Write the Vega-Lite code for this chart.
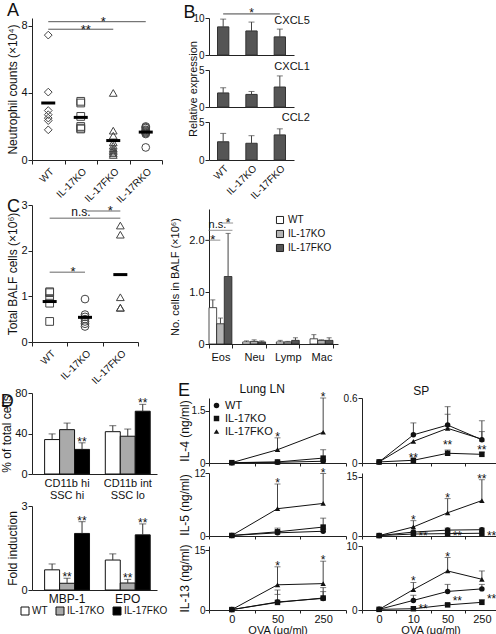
{
  "$schema": "https://vega.github.io/schema/vega-lite/v6.json",
  "padding": {"left": 0, "top": 1, "right": 0, "bottom": 0},
  "background": "white",
  "config": {
    "font": "Liberation Sans",
    "view": {"stroke": null},
    "axis": {"domainColor": "#222", "tickColor": "#222", "labelColor": "#111", "titleColor": "#111", "labelFontSize": 11, "titleFontSize": 12, "titleFontWeight": "normal", "grid": false, "tickSize": 4, "labelPadding": 1, "titlePadding": 1, "labelOverlap": false, "labelFont": "Liberation Sans", "titleFont": "Liberation Sans"},
    "title": {"fontSize": 18, "fontWeight": "normal", "anchor": "start", "color": "#111", "font": "Liberation Sans", "offset": 2},
    "legend": {"labelFont": "Liberation Sans", "labelColor": "#111"},
    "text": {"font": "Liberation Sans", "color": "#111"}
  },
  "datasets": {
    "neut": [
      {"genotype": "WT", "value": 7.45}, {"genotype": "WT", "value": 4.05}, {"genotype": "WT", "value": 2.95}, {"genotype": "WT", "value": 2.7}, {"genotype": "WT", "value": 2.5}, {"genotype": "WT", "value": 2.35}, {"genotype": "WT", "value": 1.8},
      {"genotype": "IL-17KO", "value": 3.5}, {"genotype": "IL-17KO", "value": 3.4}, {"genotype": "IL-17KO", "value": 2.6}, {"genotype": "IL-17KO", "value": 2.0}, {"genotype": "IL-17KO", "value": 1.9}, {"genotype": "IL-17KO", "value": 1.85},
      {"genotype": "IL-17FKO", "value": 4.0}, {"genotype": "IL-17FKO", "value": 1.75}, {"genotype": "IL-17FKO", "value": 1.45}, {"genotype": "IL-17FKO", "value": 1.05}, {"genotype": "IL-17FKO", "value": 0.85}, {"genotype": "IL-17FKO", "value": 0.7}, {"genotype": "IL-17FKO", "value": 0.6}, {"genotype": "IL-17FKO", "value": 0.5}, {"genotype": "IL-17FKO", "value": 0.4}, {"genotype": "IL-17FKO", "value": 0.3},
      {"genotype": "IL-17RKO", "value": 2.0}, {"genotype": "IL-17RKO", "value": 1.95}, {"genotype": "IL-17RKO", "value": 1.9}, {"genotype": "IL-17RKO", "value": 1.8}, {"genotype": "IL-17RKO", "value": 1.75}, {"genotype": "IL-17RKO", "value": 1.7}, {"genotype": "IL-17RKO", "value": 1.65}, {"genotype": "IL-17RKO", "value": 1.6}, {"genotype": "IL-17RKO", "value": 1.55}, {"genotype": "IL-17RKO", "value": 0.75}
    ],
    "balf": [
      {"genotype": "WT", "value": 1.1}, {"genotype": "WT", "value": 1.08}, {"genotype": "WT", "value": 0.95}, {"genotype": "WT", "value": 0.85}, {"genotype": "WT", "value": 0.45},
      {"genotype": "IL-17KO", "value": 0.94}, {"genotype": "IL-17KO", "value": 0.6}, {"genotype": "IL-17KO", "value": 0.55}, {"genotype": "IL-17KO", "value": 0.5}, {"genotype": "IL-17KO", "value": 0.45}, {"genotype": "IL-17KO", "value": 0.4}, {"genotype": "IL-17KO", "value": 0.34},
      {"genotype": "IL-17FKO", "value": 2.55}, {"genotype": "IL-17FKO", "value": 2.35}, {"genotype": "IL-17FKO", "value": 0.98}, {"genotype": "IL-17FKO", "value": 0.75}, {"genotype": "IL-17FKO", "value": 0.75}
    ],
    "chemo": [
      {"gene": "CXCL5", "genotype": "WT", "mean": 7.6, "upper": 9.7}, {"gene": "CXCL5", "genotype": "IL-17KO", "mean": 6.5, "upper": 8.9}, {"gene": "CXCL5", "genotype": "IL-17FKO", "mean": 4.9, "upper": 7.0},
      {"gene": "CXCL1", "genotype": "WT", "mean": 1.9, "upper": 2.6}, {"gene": "CXCL1", "genotype": "IL-17KO", "mean": 1.7, "upper": 2.1}, {"gene": "CXCL1", "genotype": "IL-17FKO", "mean": 2.7, "upper": 4.2},
      {"gene": "CCL2", "genotype": "WT", "mean": 2.4, "upper": 3.5}, {"gene": "CCL2", "genotype": "IL-17KO", "mean": 2.2, "upper": 3.2}, {"gene": "CCL2", "genotype": "IL-17FKO", "mean": 3.3, "upper": 4.1}
    ],
    "cells": [
      {"cell": "Eos", "genotype": "WT", "mean": 0.70, "upper": 0.85}, {"cell": "Eos", "genotype": "IL-17KO", "mean": 0.39, "upper": 0.50}, {"cell": "Eos", "genotype": "IL-17FKO", "mean": 1.30, "upper": 2.13},
      {"cell": "Neu", "genotype": "WT", "mean": 0.04, "upper": 0.06}, {"cell": "Neu", "genotype": "IL-17KO", "mean": 0.05, "upper": 0.08}, {"cell": "Neu", "genotype": "IL-17FKO", "mean": 0.04, "upper": 0.06},
      {"cell": "Lymp", "genotype": "WT", "mean": 0.04, "upper": 0.07}, {"cell": "Lymp", "genotype": "IL-17KO", "mean": 0.04, "upper": 0.05}, {"cell": "Lymp", "genotype": "IL-17FKO", "mean": 0.07, "upper": 0.12},
      {"cell": "Mac", "genotype": "WT", "mean": 0.10, "upper": 0.18}, {"cell": "Mac", "genotype": "IL-17KO", "mean": 0.07, "upper": 0.08}, {"cell": "Mac", "genotype": "IL-17FKO", "mean": 0.07, "upper": 0.12}
    ],
    "pct": [
      {"population": "CD11b hi|SSC hi", "genotype": "WT", "mean": 34, "upper": 39.6}, {"population": "CD11b hi|SSC hi", "genotype": "IL-17KO", "mean": 43.8, "upper": 50.3}, {"population": "CD11b hi|SSC hi", "genotype": "IL-17FKO", "mean": 24.3, "upper": 30.8},
      {"population": "CD11b int|SSC lo", "genotype": "WT", "mean": 41.8, "upper": 47.7}, {"population": "CD11b int|SSC lo", "genotype": "IL-17KO", "mean": 37.3, "upper": 44.4}, {"population": "CD11b int|SSC lo", "genotype": "IL-17FKO", "mean": 62, "upper": 68.8}
    ],
    "fold": [
      {"marker": "MBP-1", "genotype": "WT", "mean": 0.72, "upper": 0.93}, {"marker": "MBP-1", "genotype": "IL-17KO", "mean": 0.24, "upper": 0.42}, {"marker": "MBP-1", "genotype": "IL-17FKO", "mean": 2.02, "upper": 2.44},
      {"marker": "EPO", "genotype": "WT", "mean": 1.07, "upper": 1.29}, {"marker": "EPO", "genotype": "IL-17KO", "mean": 0.25, "upper": 0.38}, {"marker": "EPO", "genotype": "IL-17FKO", "mean": 1.97, "upper": 2.36}
    ],
    "cyto": [
      {"tissue": "LN", "cytokine": "IL-4", "genotype": "WT", "dose": "0", "mean": 0.01, "upper": 0.01},
      {"tissue": "LN", "cytokine": "IL-4", "genotype": "WT", "dose": "50", "mean": 0.02, "upper": 0.02},
      {"tissue": "LN", "cytokine": "IL-4", "genotype": "WT", "dose": "250", "mean": 0.05, "upper": 0.09},
      {"tissue": "LN", "cytokine": "IL-4", "genotype": "IL-17KO", "dose": "0", "mean": 0.01, "upper": 0.01},
      {"tissue": "LN", "cytokine": "IL-4", "genotype": "IL-17KO", "dose": "50", "mean": 0.03, "upper": 0.05},
      {"tissue": "LN", "cytokine": "IL-4", "genotype": "IL-17KO", "dose": "250", "mean": 0.14, "upper": 0.38},
      {"tissue": "LN", "cytokine": "IL-4", "genotype": "IL-17FKO", "dose": "0", "mean": 0.01, "upper": 0.01},
      {"tissue": "LN", "cytokine": "IL-4", "genotype": "IL-17FKO", "dose": "50", "mean": 0.38, "upper": 0.72},
      {"tissue": "LN", "cytokine": "IL-4", "genotype": "IL-17FKO", "dose": "250", "mean": 0.88, "upper": 1.86},
      {"tissue": "LN", "cytokine": "IL-5", "genotype": "WT", "dose": "0", "mean": 0.1, "upper": 0.1},
      {"tissue": "LN", "cytokine": "IL-5", "genotype": "WT", "dose": "50", "mean": 0.6, "upper": 1.0},
      {"tissue": "LN", "cytokine": "IL-5", "genotype": "WT", "dose": "250", "mean": 0.9, "upper": 1.3},
      {"tissue": "LN", "cytokine": "IL-5", "genotype": "IL-17KO", "dose": "0", "mean": 0.1, "upper": 0.1},
      {"tissue": "LN", "cytokine": "IL-5", "genotype": "IL-17KO", "dose": "50", "mean": 0.8, "upper": 1.5},
      {"tissue": "LN", "cytokine": "IL-5", "genotype": "IL-17KO", "dose": "250", "mean": 1.7, "upper": 3.4},
      {"tissue": "LN", "cytokine": "IL-5", "genotype": "IL-17FKO", "dose": "0", "mean": 0.1, "upper": 0.1},
      {"tissue": "LN", "cytokine": "IL-5", "genotype": "IL-17FKO", "dose": "50", "mean": 5.2, "upper": 9.9},
      {"tissue": "LN", "cytokine": "IL-5", "genotype": "IL-17FKO", "dose": "250", "mean": 6.2, "upper": 11.9},
      {"tissue": "LN", "cytokine": "IL-13", "genotype": "WT", "dose": "0", "mean": 0.1, "upper": 0.1},
      {"tissue": "LN", "cytokine": "IL-13", "genotype": "WT", "dose": "50", "mean": 2.0, "upper": 3.9},
      {"tissue": "LN", "cytokine": "IL-13", "genotype": "WT", "dose": "250", "mean": 2.9, "upper": 4.6},
      {"tissue": "LN", "cytokine": "IL-13", "genotype": "IL-17KO", "dose": "0", "mean": 0.1, "upper": 0.1},
      {"tissue": "LN", "cytokine": "IL-13", "genotype": "IL-17KO", "dose": "50", "mean": 1.9, "upper": 5.0},
      {"tissue": "LN", "cytokine": "IL-13", "genotype": "IL-17KO", "dose": "250", "mean": 3.0, "upper": 5.6},
      {"tissue": "LN", "cytokine": "IL-13", "genotype": "IL-17FKO", "dose": "0", "mean": 0.1, "upper": 0.1},
      {"tissue": "LN", "cytokine": "IL-13", "genotype": "IL-17FKO", "dose": "50", "mean": 6.3, "upper": 10.8},
      {"tissue": "LN", "cytokine": "IL-13", "genotype": "IL-17FKO", "dose": "250", "mean": 6.6, "upper": 12.2},
      {"tissue": "SP", "cytokine": "IL-4", "genotype": "WT", "dose": "0", "mean": 0.01, "upper": 0.01},
      {"tissue": "SP", "cytokine": "IL-4", "genotype": "WT", "dose": "10", "mean": 0.26, "upper": 0.37},
      {"tissue": "SP", "cytokine": "IL-4", "genotype": "WT", "dose": "50", "mean": 0.35, "upper": 0.52},
      {"tissue": "SP", "cytokine": "IL-4", "genotype": "WT", "dose": "250", "mean": 0.215, "upper": 0.39},
      {"tissue": "SP", "cytokine": "IL-4", "genotype": "IL-17KO", "dose": "0", "mean": 0.01, "upper": 0.01},
      {"tissue": "SP", "cytokine": "IL-4", "genotype": "IL-17KO", "dose": "10", "mean": 0.025, "upper": 0.025},
      {"tissue": "SP", "cytokine": "IL-4", "genotype": "IL-17KO", "dose": "50", "mean": 0.09, "upper": 0.12},
      {"tissue": "SP", "cytokine": "IL-4", "genotype": "IL-17KO", "dose": "250", "mean": 0.08, "upper": 0.10},
      {"tissue": "SP", "cytokine": "IL-4", "genotype": "IL-17FKO", "dose": "0", "mean": 0.01, "upper": 0.01},
      {"tissue": "SP", "cytokine": "IL-4", "genotype": "IL-17FKO", "dose": "10", "mean": 0.2, "upper": 0.2},
      {"tissue": "SP", "cytokine": "IL-4", "genotype": "IL-17FKO", "dose": "50", "mean": 0.32, "upper": 0.45},
      {"tissue": "SP", "cytokine": "IL-4", "genotype": "IL-17FKO", "dose": "250", "mean": 0.22, "upper": 0.29},
      {"tissue": "SP", "cytokine": "IL-5", "genotype": "WT", "dose": "0", "mean": 0.1, "upper": 0.1},
      {"tissue": "SP", "cytokine": "IL-5", "genotype": "WT", "dose": "10", "mean": 1.0, "upper": 1.0},
      {"tissue": "SP", "cytokine": "IL-5", "genotype": "WT", "dose": "50", "mean": 1.5, "upper": 2.0},
      {"tissue": "SP", "cytokine": "IL-5", "genotype": "WT", "dose": "250", "mean": 1.6, "upper": 2.0},
      {"tissue": "SP", "cytokine": "IL-5", "genotype": "IL-17KO", "dose": "0", "mean": 0.1, "upper": 0.1},
      {"tissue": "SP", "cytokine": "IL-5", "genotype": "IL-17KO", "dose": "10", "mean": 0.5, "upper": 0.5},
      {"tissue": "SP", "cytokine": "IL-5", "genotype": "IL-17KO", "dose": "50", "mean": 0.6, "upper": 0.6},
      {"tissue": "SP", "cytokine": "IL-5", "genotype": "IL-17KO", "dose": "250", "mean": 0.7, "upper": 0.7},
      {"tissue": "SP", "cytokine": "IL-5", "genotype": "IL-17FKO", "dose": "0", "mean": 0.1, "upper": 0.1},
      {"tissue": "SP", "cytokine": "IL-5", "genotype": "IL-17FKO", "dose": "10", "mean": 2.3, "upper": 3.9},
      {"tissue": "SP", "cytokine": "IL-5", "genotype": "IL-17FKO", "dose": "50", "mean": 5.9, "upper": 9.5},
      {"tissue": "SP", "cytokine": "IL-5", "genotype": "IL-17FKO", "dose": "250", "mean": 9.0, "upper": 14.3},
      {"tissue": "SP", "cytokine": "IL-13", "genotype": "WT", "dose": "0", "mean": 0.1, "upper": 0.1},
      {"tissue": "SP", "cytokine": "IL-13", "genotype": "WT", "dose": "10", "mean": 1.5, "upper": 2.3},
      {"tissue": "SP", "cytokine": "IL-13", "genotype": "WT", "dose": "50", "mean": 2.9, "upper": 4.0},
      {"tissue": "SP", "cytokine": "IL-13", "genotype": "WT", "dose": "250", "mean": 3.3, "upper": 4.0},
      {"tissue": "SP", "cytokine": "IL-13", "genotype": "IL-17KO", "dose": "0", "mean": 0.1, "upper": 0.1},
      {"tissue": "SP", "cytokine": "IL-13", "genotype": "IL-17KO", "dose": "10", "mean": 0.2, "upper": 0.2},
      {"tissue": "SP", "cytokine": "IL-13", "genotype": "IL-17KO", "dose": "50", "mean": 0.8, "upper": 1.0},
      {"tissue": "SP", "cytokine": "IL-13", "genotype": "IL-17KO", "dose": "250", "mean": 1.2, "upper": 1.6},
      {"tissue": "SP", "cytokine": "IL-13", "genotype": "IL-17FKO", "dose": "0", "mean": 0.1, "upper": 0.1},
      {"tissue": "SP", "cytokine": "IL-13", "genotype": "IL-17FKO", "dose": "10", "mean": 3.2, "upper": 4.3},
      {"tissue": "SP", "cytokine": "IL-13", "genotype": "IL-17FKO", "dose": "50", "mean": 6.1, "upper": 8.2},
      {"tissue": "SP", "cytokine": "IL-13", "genotype": "IL-17FKO", "dose": "250", "mean": 4.8, "upper": 6.1}
    ],
    "estars": [
      {"tissue": "LN", "cytokine": "IL-4", "dose": "50", "y": 0.72, "label": "*", "side": "above"},
      {"tissue": "LN", "cytokine": "IL-4", "dose": "250", "y": 1.86, "label": "*", "side": "above"},
      {"tissue": "LN", "cytokine": "IL-5", "dose": "50", "y": 9.9, "label": "*", "side": "above"},
      {"tissue": "LN", "cytokine": "IL-5", "dose": "250", "y": 11.9, "label": "*", "side": "above"},
      {"tissue": "LN", "cytokine": "IL-13", "dose": "50", "y": 10.8, "label": "*", "side": "above"},
      {"tissue": "LN", "cytokine": "IL-13", "dose": "250", "y": 12.2, "label": "*", "side": "above"},
      {"tissue": "SP", "cytokine": "IL-4", "dose": "10", "y": 0.04, "label": "**", "side": "above"},
      {"tissue": "SP", "cytokine": "IL-4", "dose": "50", "y": 0.16, "label": "**", "side": "above"},
      {"tissue": "SP", "cytokine": "IL-4", "dose": "250", "y": 0.11, "label": "**", "side": "above"},
      {"tissue": "SP", "cytokine": "IL-5", "dose": "10", "y": 3.9, "label": "*", "side": "above"},
      {"tissue": "SP", "cytokine": "IL-5", "dose": "50", "y": 9.5, "label": "*", "side": "above"},
      {"tissue": "SP", "cytokine": "IL-5", "dose": "250", "y": 14.3, "label": "**", "side": "above"},
      {"tissue": "SP", "cytokine": "IL-5", "dose": "10", "y": 0.2, "label": "**", "side": "right"},
      {"tissue": "SP", "cytokine": "IL-5", "dose": "50", "y": 0.2, "label": "**", "side": "right"},
      {"tissue": "SP", "cytokine": "IL-5", "dose": "250", "y": 0.2, "label": "**", "side": "right"},
      {"tissue": "SP", "cytokine": "IL-13", "dose": "10", "y": 4.3, "label": "*", "side": "above"},
      {"tissue": "SP", "cytokine": "IL-13", "dose": "50", "y": 8.2, "label": "*", "side": "above"},
      {"tissue": "SP", "cytokine": "IL-13", "dose": "10", "y": 0.36, "label": "**", "side": "right"},
      {"tissue": "SP", "cytokine": "IL-13", "dose": "50", "y": 1.5, "label": "**", "side": "right"},
      {"tissue": "SP", "cytokine": "IL-13", "dose": "250", "y": 1.9, "label": "**", "side": "right"}
    ]
  },
  "resolve": {"scale": {"shape": "independent", "fill": "independent", "xOffset": "independent"}, "legend": {"shape": "independent", "fill": "independent"}},
  "columns": 2,
  "align": "none",
  "spacing": 1,
  "concat": [
    {
      "resolve": {"scale": {"shape": "independent", "fill": "independent", "xOffset": "independent"}, "legend": {"shape": "independent", "fill": "independent"}},
      "spacing": -10,
      "vconcat": [
        {
          "title": {"text": "A", "offset": -4},
          "width": 130, "height": 142,
          "layer": [
            {"data": {"name": "neut"}, "mark": {"type": "point", "filled": false, "size": 60, "strokeWidth": 1, "color": "#444", "opacity": 1},
             "encoding": {
               "x": {"field": "genotype", "type": "nominal", "scale": {"type": "band", "domain": ["WT", "IL-17KO", "IL-17FKO", "IL-17RKO"], "paddingInner": 0, "paddingOuter": 0}, "axis": {"title": null, "labelAngle": -45, "tickBand": "extent", "labelFontSize": 10, "labelPadding": 2}},
               "y": {"field": "value", "type": "quantitative", "scale": {"domain": [0, 8.47], "nice": false}, "axis": {"values": [0, 2, 4, 6, 8], "title": "Neutrophil counts (×10⁴)"}},
               "shape": {"field": "genotype", "type": "nominal", "scale": {"domain": ["WT", "IL-17KO", "IL-17FKO", "IL-17RKO"], "range": ["diamond", "square", "triangle-up", "circle"]}, "legend": null}
             }},
            {"data": {"name": "neut"}, "mark": {"type": "tick", "orient": "horizontal", "thickness": 3, "size": 14, "color": "#000"},
             "encoding": {"x": {"field": "genotype", "type": "nominal"}, "y": {"aggregate": "mean", "field": "value", "type": "quantitative"}}},
            {"data": {"values": [{"from": "WT", "to": "IL-17FKO", "y": 7.8}, {"from": "WT", "to": "IL-17RKO", "y": 8.25}]},
             "mark": {"type": "rule", "color": "#555", "strokeWidth": 1},
             "encoding": {"x": {"field": "from", "type": "nominal"}, "x2": {"field": "to"}, "y": {"field": "y", "type": "quantitative"}}},
            {"data": {"values": [{"at": "IL-17KO", "y": 7.8, "label": "**"}]},
             "mark": {"type": "text", "fontSize": 13, "dx": 5, "dy": 5, "baseline": "alphabetic"},
             "encoding": {"x": {"field": "at", "type": "nominal"}, "y": {"field": "y", "type": "quantitative"}, "text": {"field": "label"}}},
            {"data": {"values": [{"at": "IL-17FKO", "y": 8.25, "label": "*"}]},
             "mark": {"type": "text", "fontSize": 13, "dx": -10, "dy": 4, "baseline": "alphabetic"},
             "encoding": {"x": {"field": "at", "type": "nominal"}, "y": {"field": "y", "type": "quantitative"}, "text": {"field": "label"}}}
          ]
        },
        {
          "resolve": {"scale": {"shape": "independent", "fill": "independent", "xOffset": "independent"}, "legend": {"shape": "independent", "fill": "independent"}},
          "spacing": 1,
          "vconcat": [
            {
              "title": {"text": "C", "offset": -17},
              "width": 106, "height": 137,
              "layer": [
                {"data": {"name": "balf"}, "mark": {"type": "point", "filled": false, "size": 60, "strokeWidth": 1, "color": "#444", "opacity": 1},
                 "encoding": {
                   "x": {"field": "genotype", "type": "nominal", "scale": {"type": "band", "domain": ["WT", "IL-17KO", "IL-17FKO"], "paddingInner": 0, "paddingOuter": 0}, "axis": {"title": null, "labelAngle": -45, "tickBand": "extent", "labelFontSize": 10, "labelPadding": 2}},
                   "y": {"field": "value", "type": "quantitative", "scale": {"domain": [0, 3]}, "axis": {"values": [0, 1, 2, 3], "title": "Total BALF cells (×10⁶)"}},
                   "shape": {"field": "genotype", "type": "nominal", "scale": {"domain": ["WT", "IL-17KO", "IL-17FKO"], "range": ["square", "circle", "triangle-up"]}, "legend": null}
                 }},
                {"data": {"name": "balf"}, "mark": {"type": "tick", "orient": "horizontal", "thickness": 3, "size": 14, "color": "#000"},
                 "encoding": {"x": {"field": "genotype", "type": "nominal"}, "y": {"aggregate": "mean", "field": "value", "type": "quantitative"}}},
                {"data": {"values": [{"from": "WT", "to": "IL-17KO", "y": 1.53}, {"from": "WT", "to": "IL-17FKO", "y": 2.71}, {"from": "IL-17KO", "to": "IL-17FKO", "y": 2.87}]},
                 "mark": {"type": "rule", "color": "#999", "strokeWidth": 1.5},
                 "encoding": {"x": {"field": "from", "type": "nominal"}, "x2": {"field": "to"}, "y": {"field": "y", "type": "quantitative"}}},
                {"data": {"values": [{"at": "IL-17KO", "y": 1.53, "label": "*"}]},
                 "mark": {"type": "text", "fontSize": 13, "dx": -12, "dy": 4, "baseline": "alphabetic"},
                 "encoding": {"x": {"field": "at", "type": "nominal"}, "y": {"field": "y", "type": "quantitative"}, "text": {"field": "label"}}},
                {"data": {"values": [{"at": "IL-17KO", "y": 2.71, "label": "n.s."}]},
                 "mark": {"type": "text", "fontSize": 12, "dx": -4, "dy": -2, "baseline": "alphabetic"},
                 "encoding": {"x": {"field": "at", "type": "nominal"}, "y": {"field": "y", "type": "quantitative"}, "text": {"field": "label"}}},
                {"data": {"values": [{"at": "IL-17FKO", "y": 2.87, "label": "*"}]},
                 "mark": {"type": "text", "fontSize": 13, "dx": -10, "dy": 4, "baseline": "alphabetic"},
                 "encoding": {"x": {"field": "at", "type": "nominal"}, "y": {"field": "y", "type": "quantitative"}, "text": {"field": "label"}}}
              ]
            },
            {
              "title": {"text": "D", "offset": -24},
              "bounds": "flush",
              "spacing": 32,
              "resolve": {"scale": {"shape": "independent", "fill": "independent", "xOffset": "independent"}, "legend": {"shape": "independent", "fill": "independent"}},
              "vconcat": [
                {
                  "width": 125, "height": 81,
                  "layer": [
                    {"data": {"name": "pct"}, "mark": {"type": "bar", "stroke": "#111", "strokeWidth": 1},
                     "encoding": {
                       "x": {"field": "population", "type": "nominal", "scale": {"domain": ["CD11b hi|SSC hi", "CD11b int|SSC lo"], "paddingInner": 0.26, "paddingOuter": 0.16, "align": 0.65}, "axis": {"title": null, "labelAngle": 0, "ticks": false, "labelExpr": "split(datum.label, '|')", "labelFontSize": 11, "labelLineHeight": 12, "labelPadding": 3}},
                       "xOffset": {"field": "genotype", "type": "nominal", "scale": {"domain": ["WT", "IL-17KO", "IL-17FKO"]}},
                       "y": {"field": "mean", "type": "quantitative", "scale": {"domain": [0, 80]}, "axis": {"values": [0, 20, 40, 60, 80], "title": "% of total cells"}},
                       "fill": {"field": "genotype", "type": "nominal", "scale": {"domain": ["WT", "IL-17KO", "IL-17FKO"], "range": ["#ffffff", "#aaaaaa", "#000000"]}, "legend": null}
                     }},
                    {"data": {"name": "pct"}, "mark": {"type": "rule", "color": "#333", "strokeWidth": 1},
                     "encoding": {"x": {"field": "population", "type": "nominal"}, "xOffset": {"field": "genotype", "type": "nominal"}, "y": {"field": "mean", "type": "quantitative"}, "y2": {"field": "upper"}}},
                    {"data": {"name": "pct"}, "mark": {"type": "tick", "orient": "horizontal", "size": 7, "thickness": 1, "color": "#333"},
                     "encoding": {"x": {"field": "population", "type": "nominal"}, "xOffset": {"field": "genotype", "type": "nominal"}, "y": {"field": "upper", "type": "quantitative"}}},
                    {"data": {"values": [{"population": "CD11b hi|SSC hi", "genotype": "IL-17FKO", "y": 30.8, "label": "**"}, {"population": "CD11b int|SSC lo", "genotype": "IL-17FKO", "y": 68.8, "label": "**"}]},
                     "mark": {"type": "text", "fontSize": 12, "dy": 3, "baseline": "alphabetic"},
                     "encoding": {"x": {"field": "population", "type": "nominal"}, "xOffset": {"field": "genotype", "type": "nominal"}, "y": {"field": "y", "type": "quantitative"}, "text": {"field": "label"}}}
                  ]
                },
                {
                  "width": 125, "height": 84,
                  "layer": [
                    {"data": {"name": "fold"}, "mark": {"type": "bar", "stroke": "#111", "strokeWidth": 1},
                     "encoding": {
                       "x": {"field": "marker", "type": "nominal", "scale": {"domain": ["MBP-1", "EPO"], "paddingInner": 0.26, "paddingOuter": 0.16, "align": 0.65}, "axis": {"title": null, "labelAngle": 0, "ticks": false, "labelFontSize": 12, "labelPadding": 3}},
                       "xOffset": {"field": "genotype", "type": "nominal", "scale": {"domain": ["WT", "IL-17KO", "IL-17FKO"]}},
                       "y": {"field": "mean", "type": "quantitative", "scale": {"domain": [0, 3]}, "axis": {"values": [0, 1, 2, 3], "title": "Fold induction"}},
                       "fill": {"field": "genotype", "type": "nominal", "scale": {"domain": ["WT", "IL-17KO", "IL-17FKO"], "range": ["#ffffff", "#aaaaaa", "#000000"]}, "legend": {"title": null, "orient": "none", "legendX": -12, "legendY": 100, "direction": "horizontal", "gridAlign": "each", "symbolType": "square", "symbolSize": 64, "symbolStrokeColor": "#111", "symbolStrokeWidth": 1, "labelFontSize": 10, "columnPadding": 6, "labelOffset": 2}}
                     }},
                    {"data": {"name": "fold"}, "mark": {"type": "rule", "color": "#333", "strokeWidth": 1},
                     "encoding": {"x": {"field": "marker", "type": "nominal"}, "xOffset": {"field": "genotype", "type": "nominal"}, "y": {"field": "mean", "type": "quantitative"}, "y2": {"field": "upper"}}},
                    {"data": {"name": "fold"}, "mark": {"type": "tick", "orient": "horizontal", "size": 7, "thickness": 1, "color": "#333"},
                     "encoding": {"x": {"field": "marker", "type": "nominal"}, "xOffset": {"field": "genotype", "type": "nominal"}, "y": {"field": "upper", "type": "quantitative"}}},
                    {"data": {"values": [{"marker": "MBP-1", "genotype": "IL-17KO", "y": 0.42, "label": "**"}, {"marker": "MBP-1", "genotype": "IL-17FKO", "y": 2.44, "label": "**"}, {"marker": "EPO", "genotype": "IL-17KO", "y": 0.38, "label": "**"}, {"marker": "EPO", "genotype": "IL-17FKO", "y": 2.36, "label": "**"}]},
                     "mark": {"type": "text", "fontSize": 12, "dy": 3, "baseline": "alphabetic"},
                     "encoding": {"x": {"field": "marker", "type": "nominal"}, "xOffset": {"field": "genotype", "type": "nominal"}, "y": {"field": "y", "type": "quantitative"}, "text": {"field": "label"}}}
                  ]
                }
              ]
            }
          ]
        }
      ]
    },
    {
      "resolve": {"scale": {"shape": "independent", "fill": "independent", "xOffset": "independent"}, "legend": {"shape": "independent", "fill": "independent"}},
      "columns": 1,
      "align": "none",
      "spacing": 8,
      "concat": [
        {
          "bounds": "flush",
          "spacing": 15,
          "resolve": {"scale": {"shape": "independent", "fill": "independent", "xOffset": "independent"}, "legend": {"shape": "independent", "fill": "independent"}},
          "vconcat": [
            {
              "width": 85, "height": 37,
              "layer": [
                {"data": {"name": "chemo"}, "transform": [{"filter": "datum.gene === 'CXCL5'"}], "mark": {"type": "bar", "color": "#555", "stroke": "#333", "strokeWidth": 1},
                 "encoding": {
                   "x": {"field": "genotype", "type": "nominal", "scale": {"domain": ["WT", "IL-17KO", "IL-17FKO"], "paddingInner": 0.6, "paddingOuter": 0.3}, "axis": {"title": null, "labels": false, "ticks": false}},
                   "y": {"field": "mean", "type": "quantitative", "scale": {"domain": [0, 10]}, "axis": {"values": [0, 5, 10], "labelFontSize": 10, "title": "B", "titleAngle": 0, "titleAlign": "left", "titleBaseline": "top", "titleX": -26, "titleY": -15, "titleFontSize": 18}}
                 }},
                {"data": {"name": "chemo"}, "transform": [{"filter": "datum.gene === 'CXCL5'"}], "mark": {"type": "rule", "color": "#444"},
                 "encoding": {"x": {"field": "genotype", "type": "nominal"}, "y": {"field": "mean", "type": "quantitative"}, "y2": {"field": "upper"}}},
                {"data": {"name": "chemo"}, "transform": [{"filter": "datum.gene === 'CXCL5'"}], "mark": {"type": "tick", "orient": "horizontal", "size": 6, "thickness": 1, "color": "#444"},
                 "encoding": {"x": {"field": "genotype", "type": "nominal"}, "y": {"field": "upper", "type": "quantitative"}}},
                {"data": {"values": [{"gene": "CXCL5"}]}, "mark": {"type": "text", "align": "right", "baseline": "middle", "dx": 30, "dy": 3, "fontSize": 11},
                 "encoding": {"x": {"datum": "IL-17FKO"}, "y": {"datum": 10}, "text": {"field": "gene"}}},
                {"data": {"values": [{"from": "WT", "to": "IL-17FKO", "y": 11.1}]}, "mark": {"type": "rule", "color": "#444"},
                 "encoding": {"x": {"field": "from", "type": "nominal"}, "x2": {"field": "to"}, "y": {"field": "y", "type": "quantitative"}}},
                {"data": {"values": [{"at": "IL-17KO", "y": 11.1, "label": "*"}]}, "mark": {"type": "text", "fontSize": 12, "dy": 3, "baseline": "alphabetic"},
                 "encoding": {"x": {"field": "at", "type": "nominal"}, "y": {"field": "y", "type": "quantitative"}, "text": {"field": "label"}}}
              ]
            },
            {
              "width": 85, "height": 37,
              "layer": [
                {"data": {"name": "chemo"}, "transform": [{"filter": "datum.gene === 'CXCL1'"}], "mark": {"type": "bar", "color": "#555", "stroke": "#333", "strokeWidth": 1},
                 "encoding": {
                   "x": {"field": "genotype", "type": "nominal", "scale": {"domain": ["WT", "IL-17KO", "IL-17FKO"], "paddingInner": 0.6, "paddingOuter": 0.3}, "axis": {"title": null, "labels": false, "ticks": false}},
                   "y": {"field": "mean", "type": "quantitative", "scale": {"domain": [0, 5]}, "axis": {"values": [0, 5], "title": "Relative expression", "titleFontSize": 11, "titlePadding": 0, "labelFontSize": 10}}
                 }},
                {"data": {"name": "chemo"}, "transform": [{"filter": "datum.gene === 'CXCL1'"}], "mark": {"type": "rule", "color": "#444"},
                 "encoding": {"x": {"field": "genotype", "type": "nominal"}, "y": {"field": "mean", "type": "quantitative"}, "y2": {"field": "upper"}}},
                {"data": {"name": "chemo"}, "transform": [{"filter": "datum.gene === 'CXCL1'"}], "mark": {"type": "tick", "orient": "horizontal", "size": 6, "thickness": 1, "color": "#444"},
                 "encoding": {"x": {"field": "genotype", "type": "nominal"}, "y": {"field": "upper", "type": "quantitative"}}},
                {"data": {"values": [{"gene": "CXCL1"}]}, "mark": {"type": "text", "align": "right", "baseline": "middle", "dx": 30, "dy": -3, "fontSize": 11},
                 "encoding": {"x": {"datum": "IL-17FKO"}, "y": {"datum": 5}, "text": {"field": "gene"}}}
              ]
            },
            {
              "width": 85, "height": 38,
              "layer": [
                {"data": {"name": "chemo"}, "transform": [{"filter": "datum.gene === 'CCL2'"}], "mark": {"type": "bar", "color": "#555", "stroke": "#333", "strokeWidth": 1},
                 "encoding": {
                   "x": {"field": "genotype", "type": "nominal", "scale": {"domain": ["WT", "IL-17KO", "IL-17FKO"], "paddingInner": 0.6, "paddingOuter": 0.3}, "axis": {"title": null, "labelAngle": -45, "ticks": false, "labelFontSize": 10, "labelPadding": 3}},
                   "y": {"field": "mean", "type": "quantitative", "scale": {"domain": [0, 5]}, "axis": {"values": [0, 5], "title": null, "labelFontSize": 10}}
                 }},
                {"data": {"name": "chemo"}, "transform": [{"filter": "datum.gene === 'CCL2'"}], "mark": {"type": "rule", "color": "#444"},
                 "encoding": {"x": {"field": "genotype", "type": "nominal"}, "y": {"field": "mean", "type": "quantitative"}, "y2": {"field": "upper"}}},
                {"data": {"name": "chemo"}, "transform": [{"filter": "datum.gene === 'CCL2'"}], "mark": {"type": "tick", "orient": "horizontal", "size": 6, "thickness": 1, "color": "#444"},
                 "encoding": {"x": {"field": "genotype", "type": "nominal"}, "y": {"field": "upper", "type": "quantitative"}}},
                {"data": {"values": [{"gene": "CCL2"}]}, "mark": {"type": "text", "align": "right", "baseline": "middle", "dx": 30, "dy": -4, "fontSize": 11},
                 "encoding": {"x": {"datum": "IL-17FKO"}, "y": {"datum": 5}, "text": {"field": "gene"}}}
              ]
            }
          ]
        },
        {
          "resolve": {"scale": {"shape": "independent", "fill": "independent", "xOffset": "independent"}, "legend": {"shape": "independent", "fill": "independent"}},
          "columns": 1,
          "align": "none",
          "spacing": 20,
          "concat": [
            {
              "width": 129, "height": 135,
              "layer": [
                {"data": {"name": "cells"}, "mark": {"type": "bar", "stroke": "#222", "strokeWidth": 0.8},
                 "encoding": {
                   "x": {"field": "cell", "type": "nominal", "scale": {"domain": ["Eos", "Neu", "Lymp", "Mac"], "paddingInner": 0.32, "paddingOuter": 0.075, "align": 0}, "axis": {"title": null, "labelAngle": 0, "tickBand": "extent", "labelFontSize": 11, "labelPadding": 3}},
                   "xOffset": {"field": "genotype", "type": "nominal", "scale": {"domain": ["WT", "IL-17KO", "IL-17FKO"]}},
                   "y": {"field": "mean", "type": "quantitative", "scale": {"domain": [0, 2.5]}, "axis": {"values": [0, 0.5, 1, 1.5, 2, 2.5], "labelExpr": "datum.value === 0 ? '0' : format(datum.value, '.1f')", "title": "No. cells in BALF (×10⁶)", "titleFontSize": 11, "titlePadding": 8}},
                   "fill": {"field": "genotype", "type": "nominal", "scale": {"domain": ["WT", "IL-17KO", "IL-17FKO"], "range": ["#ffffff", "#b4b4b4", "#555555"]}, "legend": {"title": null, "orient": "top-right", "offset": 6, "symbolType": "square", "symbolSize": 50, "symbolStrokeColor": "#222", "symbolStrokeWidth": 1, "labelFontSize": 10, "rowPadding": 2, "labelOffset": 3}}
                 }},
                {"data": {"name": "cells"}, "mark": {"type": "rule", "color": "#444", "strokeWidth": 1},
                 "encoding": {"x": {"field": "cell", "type": "nominal"}, "xOffset": {"field": "genotype", "type": "nominal"}, "y": {"field": "mean", "type": "quantitative"}, "y2": {"field": "upper"}}},
                {"data": {"name": "cells"}, "mark": {"type": "tick", "orient": "horizontal", "size": 5, "thickness": 1, "color": "#444"},
                 "encoding": {"x": {"field": "cell", "type": "nominal"}, "xOffset": {"field": "genotype", "type": "nominal"}, "y": {"field": "upper", "type": "quantitative"}}},
                {"data": {"values": [{"cell": "Eos", "at": "WT", "y": 2.0}]}, "mark": {"type": "tick", "orient": "horizontal", "size": 15, "thickness": 1, "color": "#666"},
                 "encoding": {"x": {"field": "cell", "type": "nominal"}, "xOffset": {"field": "at", "type": "nominal"}, "y": {"field": "y", "type": "quantitative"}}},
                {"data": {"values": [{"cell": "Eos", "at": "IL-17KO", "y": 2.19}]}, "mark": {"type": "tick", "orient": "horizontal", "size": 24, "thickness": 1, "color": "#666"},
                 "encoding": {"x": {"field": "cell", "type": "nominal"}, "xOffset": {"field": "at", "type": "nominal"}, "y": {"field": "y", "type": "quantitative"}}},
                {"data": {"values": [{"cell": "Eos", "at": "IL-17FKO", "y": 2.33}]}, "mark": {"type": "tick", "orient": "horizontal", "size": 10, "thickness": 1, "color": "#666"},
                 "encoding": {"x": {"field": "cell", "type": "nominal"}, "xOffset": {"field": "at", "type": "nominal"}, "y": {"field": "y", "type": "quantitative"}}},
                {"data": {"values": [{"cell": "Eos", "at": "WT", "y": 2.0, "label": "*"}, {"cell": "Eos", "at": "IL-17FKO", "y": 2.33, "label": "*"}]}, "mark": {"type": "text", "fontSize": 13, "dy": 4, "baseline": "alphabetic"},
                 "encoding": {"x": {"field": "cell", "type": "nominal"}, "xOffset": {"field": "at", "type": "nominal"}, "y": {"field": "y", "type": "quantitative"}, "text": {"field": "label"}}},
                {"data": {"values": [{"cell": "Eos", "at": "IL-17KO", "y": 2.19, "label": "n.s."}]}, "mark": {"type": "text", "fontSize": 11, "dx": -3, "dy": -2, "baseline": "alphabetic"},
                 "encoding": {"x": {"field": "cell", "type": "nominal"}, "xOffset": {"field": "at", "type": "nominal"}, "y": {"field": "y", "type": "quantitative"}, "text": {"field": "label"}}}
              ]
            },
            {
              "title": {"text": "E", "offset": -17},
              "bounds": "flush",
              "columns": 2,
              "spacing": {"row": 10, "column": 16},
              "resolve": {"scale": {"shape": "independent", "fill": "independent", "xOffset": "independent"}, "legend": {"shape": "independent", "fill": "independent"}},
              "concat": [
                {
                  "title": {"text": "Lung LN", "anchor": "middle", "fontSize": 12, "offset": -5, "frame": "bounds"},
                  "width": 137, "height": 65,
                  "layer": [
                    {"data": {"name": "cyto"}, "transform": [{"filter": "datum.tissue === 'LN' && datum.cytokine === 'IL-4'"}], "mark": {"type": "line", "color": "#111", "strokeWidth": 1},
                     "encoding": {
                       "x": {"field": "dose", "type": "nominal", "sort": ["0", "50", "250"], "scale": {"type": "band", "domain": ["0", "50", "250"], "paddingInner": 0, "paddingOuter": 0}, "axis": {"title": null, "labels": false, "tickBand": "extent", "tickSize": 3}},
                       "y": {"field": "mean", "type": "quantitative", "scale": {"domain": [0, 1.86], "nice": false}, "axis": {"values": [0, 0.5, 1, 1.5], "labelExpr": "datum.value === 0 ? '0' : format(datum.value, '.1f')", "title": "IL-4 (ng/ml)", "titlePadding": 0, "labelPadding": 0, "labelFontSize": 10, "minExtent": 18, "maxExtent": 18}},
                       "detail": {"field": "genotype", "type": "nominal"}
                     }},
                    {"data": {"name": "cyto"}, "transform": [{"filter": "datum.tissue === 'LN' && datum.cytokine === 'IL-4' && datum.upper > datum.mean"}], "mark": {"type": "rule", "color": "#444", "strokeWidth": 1},
                     "encoding": {"x": {"field": "dose", "type": "nominal"}, "y": {"field": "mean", "type": "quantitative"}, "y2": {"field": "upper"}}},
                    {"data": {"name": "cyto"}, "transform": [{"filter": "datum.tissue === 'LN' && datum.cytokine === 'IL-4' && datum.upper > datum.mean"}], "mark": {"type": "tick", "orient": "horizontal", "size": 6, "thickness": 1, "color": "#444"},
                     "encoding": {"x": {"field": "dose", "type": "nominal"}, "y": {"field": "upper", "type": "quantitative"}}},
                    {"data": {"name": "cyto"}, "transform": [{"filter": "datum.tissue === 'LN' && datum.cytokine === 'IL-4'"}], "mark": {"type": "point", "filled": true, "size": 30, "color": "#111", "opacity": 1},
                     "encoding": {"x": {"field": "dose", "type": "nominal"}, "y": {"field": "mean", "type": "quantitative"},
                       "shape": {"field": "genotype", "type": "nominal", "scale": {"domain": ["WT", "IL-17KO", "IL-17FKO"], "range": ["circle", "square", "triangle-up"]}, "legend": {"title": null, "orient": "top-left", "offset": 2, "padding": 0, "labelFontSize": 11, "symbolSize": 30, "symbolFillColor": "#111", "symbolStrokeColor": "#111", "rowPadding": 0, "labelOffset": 3}}}},
                    {"data": {"name": "estars"}, "transform": [{"filter": "datum.tissue === 'LN' && datum.cytokine === 'IL-4' && datum.side === 'above'"}], "mark": {"type": "text", "fontSize": 12, "dy": 3, "baseline": "alphabetic"},
                     "encoding": {"x": {"field": "dose", "type": "nominal"}, "y": {"field": "y", "type": "quantitative"}, "text": {"field": "label"}}}
                  ]
                },
                {
                  "title": {"text": "SP", "anchor": "middle", "fontSize": 12, "offset": -5, "frame": "bounds"},
                  "width": 137, "height": 65,
                  "layer": [
                    {"data": {"name": "cyto"}, "transform": [{"filter": "datum.tissue === 'SP' && datum.cytokine === 'IL-4'"}], "mark": {"type": "line", "color": "#111", "strokeWidth": 1},
                     "encoding": {
                       "x": {"field": "dose", "type": "nominal", "sort": ["0", "10", "50", "250"], "scale": {"type": "band", "domain": ["0", "10", "50", "250"], "paddingInner": 0, "paddingOuter": 0}, "axis": {"title": null, "labels": false, "tickBand": "extent", "tickSize": 3}},
                       "y": {"field": "mean", "type": "quantitative", "scale": {"domain": [0, 0.6]}, "axis": {"values": [0, 0.2, 0.4, 0.6], "labelExpr": "datum.value === 0 ? '0' : format(datum.value, '.1f')", "title": null, "labelFontSize": 10}},
                       "detail": {"field": "genotype", "type": "nominal"}
                     }},
                    {"data": {"name": "cyto"}, "transform": [{"filter": "datum.tissue === 'SP' && datum.cytokine === 'IL-4' && datum.upper > datum.mean"}], "mark": {"type": "rule", "color": "#444", "strokeWidth": 1},
                     "encoding": {"x": {"field": "dose", "type": "nominal"}, "y": {"field": "mean", "type": "quantitative"}, "y2": {"field": "upper"}}},
                    {"data": {"name": "cyto"}, "transform": [{"filter": "datum.tissue === 'SP' && datum.cytokine === 'IL-4' && datum.upper > datum.mean"}], "mark": {"type": "tick", "orient": "horizontal", "size": 6, "thickness": 1, "color": "#444"},
                     "encoding": {"x": {"field": "dose", "type": "nominal"}, "y": {"field": "upper", "type": "quantitative"}}},
                    {"data": {"name": "cyto"}, "transform": [{"filter": "datum.tissue === 'SP' && datum.cytokine === 'IL-4'"}], "mark": {"type": "point", "filled": true, "size": 30, "color": "#111", "opacity": 1},
                     "encoding": {"x": {"field": "dose", "type": "nominal"}, "y": {"field": "mean", "type": "quantitative"},
                       "shape": {"field": "genotype", "type": "nominal", "scale": {"domain": ["WT", "IL-17KO", "IL-17FKO"], "range": ["circle", "square", "triangle-up"]}, "legend": null}}},
                    {"data": {"name": "estars"}, "transform": [{"filter": "datum.tissue === 'SP' && datum.cytokine === 'IL-4' && datum.side === 'above'"}], "mark": {"type": "text", "fontSize": 12, "dy": 3, "baseline": "alphabetic"},
                     "encoding": {"x": {"field": "dose", "type": "nominal"}, "y": {"field": "y", "type": "quantitative"}, "text": {"field": "label"}}}
                  ]
                },
                {
                  "width": 137, "height": 63,
                  "layer": [
                    {"data": {"name": "cyto"}, "transform": [{"filter": "datum.tissue === 'LN' && datum.cytokine === 'IL-5'"}], "mark": {"type": "line", "color": "#111", "strokeWidth": 1},
                     "encoding": {
                       "x": {"field": "dose", "type": "nominal", "sort": ["0", "50", "250"], "scale": {"type": "band", "domain": ["0", "50", "250"], "paddingInner": 0, "paddingOuter": 0}, "axis": {"title": null, "labels": false, "tickBand": "extent", "tickSize": 3}},
                       "y": {"field": "mean", "type": "quantitative", "scale": {"domain": [0, 12]}, "axis": {"values": [0, 3, 6, 9, 12], "title": "IL-5 (ng/ml)", "titlePadding": 0, "labelPadding": 0, "labelFontSize": 10, "minExtent": 18, "maxExtent": 18}},
                       "detail": {"field": "genotype", "type": "nominal"}
                     }},
                    {"data": {"name": "cyto"}, "transform": [{"filter": "datum.tissue === 'LN' && datum.cytokine === 'IL-5' && datum.upper > datum.mean"}], "mark": {"type": "rule", "color": "#444", "strokeWidth": 1},
                     "encoding": {"x": {"field": "dose", "type": "nominal"}, "y": {"field": "mean", "type": "quantitative"}, "y2": {"field": "upper"}}},
                    {"data": {"name": "cyto"}, "transform": [{"filter": "datum.tissue === 'LN' && datum.cytokine === 'IL-5' && datum.upper > datum.mean"}], "mark": {"type": "tick", "orient": "horizontal", "size": 6, "thickness": 1, "color": "#444"},
                     "encoding": {"x": {"field": "dose", "type": "nominal"}, "y": {"field": "upper", "type": "quantitative"}}},
                    {"data": {"name": "cyto"}, "transform": [{"filter": "datum.tissue === 'LN' && datum.cytokine === 'IL-5'"}], "mark": {"type": "point", "filled": true, "size": 30, "color": "#111", "opacity": 1},
                     "encoding": {"x": {"field": "dose", "type": "nominal"}, "y": {"field": "mean", "type": "quantitative"},
                       "shape": {"field": "genotype", "type": "nominal", "scale": {"domain": ["WT", "IL-17KO", "IL-17FKO"], "range": ["circle", "square", "triangle-up"]}, "legend": null}}},
                    {"data": {"name": "estars"}, "transform": [{"filter": "datum.tissue === 'LN' && datum.cytokine === 'IL-5' && datum.side === 'above'"}], "mark": {"type": "text", "fontSize": 12, "dy": 3, "baseline": "alphabetic"},
                     "encoding": {"x": {"field": "dose", "type": "nominal"}, "y": {"field": "y", "type": "quantitative"}, "text": {"field": "label"}}}
                  ]
                },
                {
                  "width": 137, "height": 63,
                  "layer": [
                    {"data": {"name": "cyto"}, "transform": [{"filter": "datum.tissue === 'SP' && datum.cytokine === 'IL-5'"}], "mark": {"type": "line", "color": "#111", "strokeWidth": 1},
                     "encoding": {
                       "x": {"field": "dose", "type": "nominal", "sort": ["0", "10", "50", "250"], "scale": {"type": "band", "domain": ["0", "10", "50", "250"], "paddingInner": 0, "paddingOuter": 0}, "axis": {"title": null, "labels": false, "tickBand": "extent", "tickSize": 3}},
                       "y": {"field": "mean", "type": "quantitative", "scale": {"domain": [0, 15]}, "axis": {"values": [0, 5, 10, 15], "title": null, "labelFontSize": 10}},
                       "detail": {"field": "genotype", "type": "nominal"}
                     }},
                    {"data": {"name": "cyto"}, "transform": [{"filter": "datum.tissue === 'SP' && datum.cytokine === 'IL-5' && datum.upper > datum.mean"}], "mark": {"type": "rule", "color": "#444", "strokeWidth": 1},
                     "encoding": {"x": {"field": "dose", "type": "nominal"}, "y": {"field": "mean", "type": "quantitative"}, "y2": {"field": "upper"}}},
                    {"data": {"name": "cyto"}, "transform": [{"filter": "datum.tissue === 'SP' && datum.cytokine === 'IL-5' && datum.upper > datum.mean"}], "mark": {"type": "tick", "orient": "horizontal", "size": 6, "thickness": 1, "color": "#444"},
                     "encoding": {"x": {"field": "dose", "type": "nominal"}, "y": {"field": "upper", "type": "quantitative"}}},
                    {"data": {"name": "cyto"}, "transform": [{"filter": "datum.tissue === 'SP' && datum.cytokine === 'IL-5'"}], "mark": {"type": "point", "filled": true, "size": 30, "color": "#111", "opacity": 1},
                     "encoding": {"x": {"field": "dose", "type": "nominal"}, "y": {"field": "mean", "type": "quantitative"},
                       "shape": {"field": "genotype", "type": "nominal", "scale": {"domain": ["WT", "IL-17KO", "IL-17FKO"], "range": ["circle", "square", "triangle-up"]}, "legend": null}}},
                    {"data": {"name": "estars"}, "transform": [{"filter": "datum.tissue === 'SP' && datum.cytokine === 'IL-5' && datum.side === 'above'"}], "mark": {"type": "text", "fontSize": 12, "dy": 3, "baseline": "alphabetic"},
                     "encoding": {"x": {"field": "dose", "type": "nominal"}, "y": {"field": "y", "type": "quantitative"}, "text": {"field": "label"}}},
                    {"data": {"name": "estars"}, "transform": [{"filter": "datum.tissue === 'SP' && datum.cytokine === 'IL-5' && datum.side === 'right'"}], "mark": {"type": "text", "fontSize": 12, "dx": 5, "dy": 5, "align": "left", "baseline": "alphabetic"},
                     "encoding": {"x": {"field": "dose", "type": "nominal"}, "y": {"field": "y", "type": "quantitative"}, "text": {"field": "label"}}}
                  ]
                },
                {
                  "width": 137, "height": 64,
                  "layer": [
                    {"data": {"name": "cyto"}, "transform": [{"filter": "datum.tissue === 'LN' && datum.cytokine === 'IL-13'"}], "mark": {"type": "line", "color": "#111", "strokeWidth": 1},
                     "encoding": {
                       "x": {"field": "dose", "type": "nominal", "sort": ["0", "50", "250"], "scale": {"type": "band", "domain": ["0", "50", "250"], "paddingInner": 0, "paddingOuter": 0}, "axis": {"title": "OVA (μg/ml)", "labelAngle": 0, "tickBand": "extent", "tickSize": 3, "titlePadding": 0, "titleFontSize": 11, "labelPadding": 0}},
                       "y": {"field": "mean", "type": "quantitative", "scale": {"domain": [0, 15]}, "axis": {"values": [0, 3, 6, 9, 12, 15], "title": "IL-13 (ng/ml)", "titlePadding": 0, "labelPadding": 0, "labelFontSize": 10, "minExtent": 18, "maxExtent": 18}},
                       "detail": {"field": "genotype", "type": "nominal"}
                     }},
                    {"data": {"name": "cyto"}, "transform": [{"filter": "datum.tissue === 'LN' && datum.cytokine === 'IL-13' && datum.upper > datum.mean"}], "mark": {"type": "rule", "color": "#444", "strokeWidth": 1},
                     "encoding": {"x": {"field": "dose", "type": "nominal"}, "y": {"field": "mean", "type": "quantitative"}, "y2": {"field": "upper"}}},
                    {"data": {"name": "cyto"}, "transform": [{"filter": "datum.tissue === 'LN' && datum.cytokine === 'IL-13' && datum.upper > datum.mean"}], "mark": {"type": "tick", "orient": "horizontal", "size": 6, "thickness": 1, "color": "#444"},
                     "encoding": {"x": {"field": "dose", "type": "nominal"}, "y": {"field": "upper", "type": "quantitative"}}},
                    {"data": {"name": "cyto"}, "transform": [{"filter": "datum.tissue === 'LN' && datum.cytokine === 'IL-13'"}], "mark": {"type": "point", "filled": true, "size": 30, "color": "#111", "opacity": 1},
                     "encoding": {"x": {"field": "dose", "type": "nominal"}, "y": {"field": "mean", "type": "quantitative"},
                       "shape": {"field": "genotype", "type": "nominal", "scale": {"domain": ["WT", "IL-17KO", "IL-17FKO"], "range": ["circle", "square", "triangle-up"]}, "legend": null}}},
                    {"data": {"name": "estars"}, "transform": [{"filter": "datum.tissue === 'LN' && datum.cytokine === 'IL-13' && datum.side === 'above'"}], "mark": {"type": "text", "fontSize": 12, "dy": 3, "baseline": "alphabetic"},
                     "encoding": {"x": {"field": "dose", "type": "nominal"}, "y": {"field": "y", "type": "quantitative"}, "text": {"field": "label"}}}
                  ]
                },
                {
                  "width": 137, "height": 64,
                  "layer": [
                    {"data": {"name": "cyto"}, "transform": [{"filter": "datum.tissue === 'SP' && datum.cytokine === 'IL-13'"}], "mark": {"type": "line", "color": "#111", "strokeWidth": 1},
                     "encoding": {
                       "x": {"field": "dose", "type": "nominal", "sort": ["0", "10", "50", "250"], "scale": {"type": "band", "domain": ["0", "10", "50", "250"], "paddingInner": 0, "paddingOuter": 0}, "axis": {"title": "OVA (μg/ml)", "labelAngle": 0, "tickBand": "extent", "tickSize": 3, "titlePadding": 0, "titleFontSize": 11, "labelPadding": 0}},
                       "y": {"field": "mean", "type": "quantitative", "scale": {"domain": [0, 10]}, "axis": {"values": [0, 5, 10], "title": null, "labelFontSize": 10}},
                       "detail": {"field": "genotype", "type": "nominal"}
                     }},
                    {"data": {"name": "cyto"}, "transform": [{"filter": "datum.tissue === 'SP' && datum.cytokine === 'IL-13' && datum.upper > datum.mean"}], "mark": {"type": "rule", "color": "#444", "strokeWidth": 1},
                     "encoding": {"x": {"field": "dose", "type": "nominal"}, "y": {"field": "mean", "type": "quantitative"}, "y2": {"field": "upper"}}},
                    {"data": {"name": "cyto"}, "transform": [{"filter": "datum.tissue === 'SP' && datum.cytokine === 'IL-13' && datum.upper > datum.mean"}], "mark": {"type": "tick", "orient": "horizontal", "size": 6, "thickness": 1, "color": "#444"},
                     "encoding": {"x": {"field": "dose", "type": "nominal"}, "y": {"field": "upper", "type": "quantitative"}}},
                    {"data": {"name": "cyto"}, "transform": [{"filter": "datum.tissue === 'SP' && datum.cytokine === 'IL-13'"}], "mark": {"type": "point", "filled": true, "size": 30, "color": "#111", "opacity": 1},
                     "encoding": {"x": {"field": "dose", "type": "nominal"}, "y": {"field": "mean", "type": "quantitative"},
                       "shape": {"field": "genotype", "type": "nominal", "scale": {"domain": ["WT", "IL-17KO", "IL-17FKO"], "range": ["circle", "square", "triangle-up"]}, "legend": null}}},
                    {"data": {"name": "estars"}, "transform": [{"filter": "datum.tissue === 'SP' && datum.cytokine === 'IL-13' && datum.side === 'above'"}], "mark": {"type": "text", "fontSize": 12, "dy": 3, "baseline": "alphabetic"},
                     "encoding": {"x": {"field": "dose", "type": "nominal"}, "y": {"field": "y", "type": "quantitative"}, "text": {"field": "label"}}},
                    {"data": {"name": "estars"}, "transform": [{"filter": "datum.tissue === 'SP' && datum.cytokine === 'IL-13' && datum.side === 'right'"}], "mark": {"type": "text", "fontSize": 12, "dx": 5, "dy": 5, "align": "left", "baseline": "alphabetic"},
                     "encoding": {"x": {"field": "dose", "type": "nominal"}, "y": {"field": "y", "type": "quantitative"}, "text": {"field": "label"}}}
                  ]
                }
              ]
            }
          ]
        }
      ]
    }
  ]
}
